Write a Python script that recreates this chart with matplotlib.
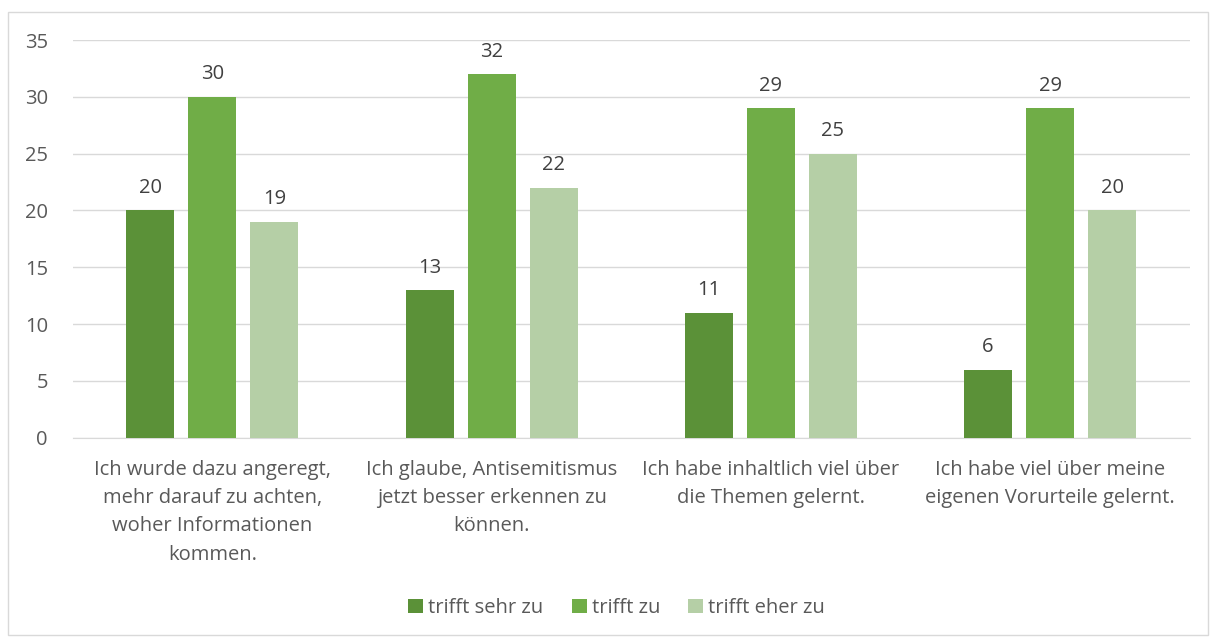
import matplotlib.pyplot as plt
from matplotlib.patches import Rectangle
import numpy as np

kategorien = [
    "Ich wurde dazu angeregt,\nmehr darauf zu achten,\nwoher Informationen\nkommen.",
    "Ich glaube, Antisemitismus\njetzt besser erkennen zu\nkönnen.",
    "Ich habe inhaltlich viel über\ndie Themen gelernt.",
    "Ich habe viel über meine\neigenen Vorurteile gelernt.",
]
serien = ["trifft sehr zu", "trifft zu", "trifft eher zu"]
sehr_zu = [20, 13, 11, 6]
zu = [30, 32, 29, 29]
eher_zu = [19, 22, 25, 20]
werte = [sehr_zu, zu, eher_zu]
farben = ["#5B9138", "#70AD47", "#B5CFA6"]

plt.rcParams['font.family'] = ['Open Sans', 'DejaVu Sans']
textfarbe = "#595959"
fs = 14.5

fig = plt.figure(figsize=(12.14, 6.4), dpi=100)
ax = fig.add_axes([0.060, 0.316, 0.920, 0.6215])

# Rahmen um das Diagramm
fig.patches.append(Rectangle((8 / 1214, 1 - 635 / 640), 1200 / 1214, 623 / 640,
                             transform=fig.transFigure, fill=False,
                             edgecolor="#D9D9D9", linewidth=1))

x = np.arange(len(kategorien))
breite = 0.172
abstand = 0.222
for i, (name, vals, farbe) in enumerate(zip(serien, werte, farben)):
    pos = x + (i - 1) * abstand
    balken = ax.bar(pos, vals, width=breite, color=farbe, label=name, zorder=3)
    ax.bar_label(balken, padding=9, fontsize=fs, color="#404040")

ax.set_xlim(-0.5, len(kategorien) - 0.5)
ax.set_ylim(0, 35)
ax.set_yticks(range(0, 36, 5))
ax.yaxis.grid(True, color="#D9D9D9", linewidth=1, zorder=0)
ax.set_xticks(x)
ax.set_xticklabels(kategorien, fontsize=fs, color=textfarbe, linespacing=1.55)
ax.tick_params(axis='y', labelsize=fs, labelcolor=textfarbe, length=0, pad=18)
ax.tick_params(axis='x', length=0, pad=16)
for s in ["top", "right", "left"]:
    ax.spines[s].set_visible(False)
ax.spines["bottom"].set_color("#D9D9D9")

leg = fig.legend(loc="center", bbox_to_anchor=(0.508, 1 - 608 / 640), ncol=3,
                 frameon=False, fontsize=fs, handlelength=0.75, handleheight=0.75,
                 handletextpad=0.25, columnspacing=1.4)
for t in leg.get_texts():
    t.set_color(textfarbe)

fig.savefig("out.png", dpi=100)
